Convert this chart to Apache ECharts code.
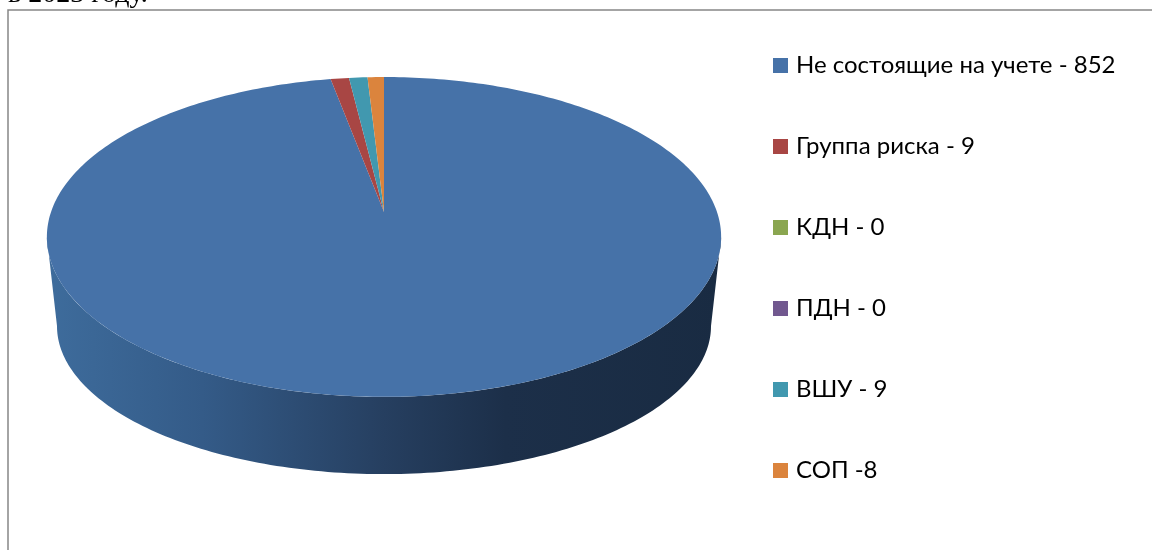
<!DOCTYPE html>
<html>
<head>
    <meta charset="utf-8" />
    <title>Pie</title>
    <script src="https://cdn.jsdelivr.net/npm/echarts@6/dist/echarts.min.js"></script>
    <style>
        html, body { margin: 0; padding: 0; background: #fff; overflow: hidden; }
    </style>
</head>
<body>
<div id="main" style="width: 1152px;height:550px;"></div>
<script type="text/javascript">
    var categories = ['Не состоящие на учете - 852', 'Группа риска - 9', 'КДН - 0', 'ПДН - 0', 'ВШУ - 9', 'СОП -8'];
    var values = [852, 9, 0, 0, 9, 8];
    var colors = ['#4672A8', '#A84644', '#8AA650', '#71588F', '#4198AF', '#DB843D'];
    var heading = 'в 2023 году.';

    var myChart = echarts.init(document.getElementById('main'));

    // the pie is tilted in perspective, so the centre is above the middle of the ellipse
    var total = values.reduce(function (a, b) { return a + b; }, 0);
    var topRim = { cx: 384, cy: 212, a: 333, b: 156, p: 0.156 };
    var bottomRim = { cx: 384, cy: 303, a: 323, b: 144.4, p: 0.156 };

    function project(rim, deg) {
        var t = deg * Math.PI / 180;
        var w = 1 + rim.p * Math.cos(t);
        return [rim.cx + rim.a * Math.sin(t) / w, rim.cy - rim.b * Math.cos(t) / w];
    }

    function arc(rim, from, to) {
        var pts = [];
        var n = Math.max(2, Math.ceil(Math.abs(to - from)));
        for (var i = 0; i <= n; i++) {
            pts.push(project(rim, from + (to - from) * i / n));
        }
        return pts;
    }

    // part of the rim that faces the viewer
    var edge = Math.acos(-topRim.p) * 180 / Math.PI;

    function renderSlice(params, api) {
        var from = api.value(0) / total * 360;
        var to = api.value(1) / total * 360;
        if (to <= from) return null;
        var children = [];
        var wallFrom = Math.max(from, edge);
        var wallTo = Math.min(to, 360 - edge);
        if (wallTo > wallFrom) {
            children.push({
                type: 'polygon',
                shape: { points: arc(topRim, wallFrom, wallTo).concat(arc(bottomRim, wallTo, wallFrom)) },
                style: {
                    fill: new echarts.graphic.LinearGradient(0, 0, 1, 0, [
                        { offset: 0, color: '#3E6C9C' },
                        { offset: 0.23, color: '#345B88' },
                        { offset: 0.5, color: '#263F60' },
                        { offset: 0.68, color: '#1C2F49' },
                        { offset: 1, color: '#192B42' }
                    ])
                }
            });
        }
        children.push({
            type: 'polygon',
            shape: { points: [[topRim.cx, topRim.cy]].concat(arc(topRim, from, to)) },
            style: { fill: api.visual('color') }
        });
        return { type: 'group', children: children };
    }

    var series = [];
    var sum = 0;
    categories.forEach(function (name, i) {
        series.push({
            name: name,
            type: 'custom',
            coordinateSystem: 'none',
            renderItem: renderSlice,
            itemStyle: { color: colors[i] },
            data: [[sum, sum + values[i]]]
        });
        sum += values[i];
    });

    var option = {
        animation: false,
        backgroundColor: '#fff',
        title: {
            text: heading,
            left: 8,
            top: -19,
            padding: 0,
            textStyle: { fontFamily: 'Liberation Serif', fontSize: 28, fontWeight: 'normal', color: '#000' }
        },
        legend: {
            orient: 'vertical',
            left: 773,
            top: 53.5,
            padding: 0,
            itemWidth: 15,
            itemHeight: 15,
            itemGap: 57,
            icon: 'rect',
            selectedMode: false,
            textStyle: { fontFamily: 'Lato', fontSize: 24, color: '#000', padding: [0, 0, 0, 3] }
        },
        graphic: [{
            type: 'rect',
            silent: true,
            z: -1,
            shape: { x: 8, y: 10, width: 1300, height: 700 },
            style: { fill: 'none', stroke: '#868686', lineWidth: 1.5 }
        }],
        series: series
    };
    myChart.setOption(option);
</script>
</body>
</html>
